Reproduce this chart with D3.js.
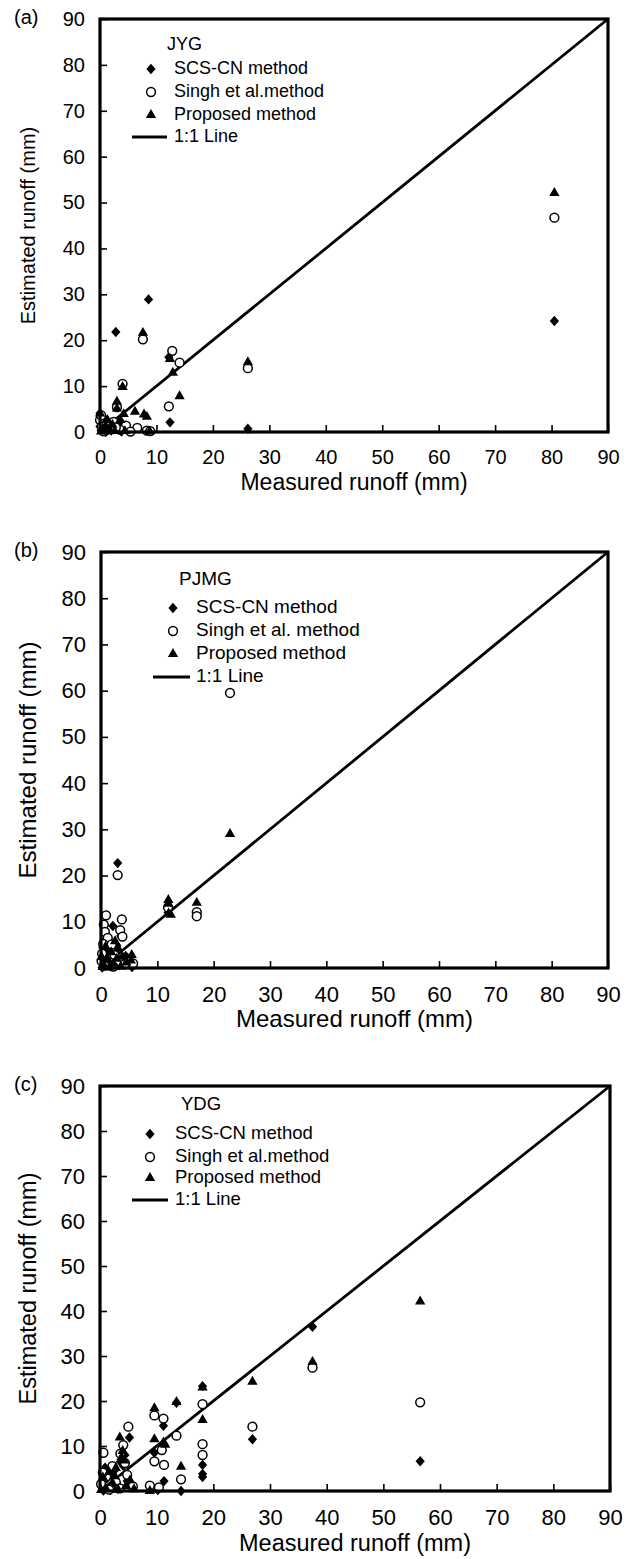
<!DOCTYPE html>
<html>
<head>
<meta charset="utf-8">
<script src="https://cdn.jsdelivr.net/npm/d3@7"></script>
<style>
  body { margin: 0; background: #fff; }
  svg { display: block; font-family: "Liberation Sans", Arial, sans-serif; }
</style>
</head>
<body>
<svg width="632" height="1559"></svg>
<script>
const ticks = [0, 10, 20, 30, 40, 50, 60, 70, 80, 90];
const seriesNames = ['SCS-CN method', 'Singh et al.method', 'Proposed method'];

// (a) JYG  -- [measured, estimated]
const jygScs = [[0, 4.1], [2.8, 21.8], [8.6, 28.9], [12.2, 16.3], [12.4, 2.1], [26.2, 0.7], [80.5, 24.2],
  [0.2, 0.3], [0.5, 0.1], [0.8, 0.5], [1.2, 0.2], [1.5, 0.8], [2, 0.3], [2.5, 1.2], [3.3, 1.8],
  [0, 1.2], [0.3, 1.7], [4.6, 0.6], [1, 0], [3.8, 0.1], [0.6, 2.2]];
const jygSingh = [[7.6, 20.2], [12.8, 17.7], [14.1, 15.1], [12.2, 5.6], [26.2, 13.9], [80.5, 46.7], [4.0, 10.5],
  [3.0, 5.4], [6.6, 0.9], [8.3, 0.3], [8.9, 0.2], [4.6, 1.4], [3.5, 0.5], [0, 2.6], [0.3, 1.2], [0.6, 0.2],
  [1.2, 1.8], [1.8, 0.6], [2.4, 2.2], [5.4, 0.1], [2.8, 1.0], [0.2, 3.6]];
const jygProp = [[7.6, 21.6], [12.4, 15.9], [12.9, 12.9], [14.1, 7.8], [26.2, 15.2], [80.5, 52.1], [4.0, 9.8],
  [3.0, 6.6], [3.0, 5.1], [6.2, 4.4], [7.8, 3.8], [8.3, 3.3], [4.2, 3.9], [3.6, 2.6], [0, 4.0], [0.4, 0.6],
  [1.0, 1.3], [1.6, 0.4], [2.2, 1.6], [0.2, 0.1], [4.4, 0.2], [2.6, 0.2], [1.3, 2.6], [8.8, 0.1]];

// (b) PJMG
const pjmgScs = [[2.96, 22.7], [2.1, 9.1], [3.5, 6.9], [11.9, 12.0], [0.3, 4.5], [1.1, 3.2], [2.4, 1.8],
  [0.6, 1.1], [4.4, 2.6], [1.6, 0.4], [3.2, 0.6], [0.2, 0.1], [5.5, 0.2], [2.8, 4.9], [0.9, 6.1], [4.0, 1.2]];
const pjmgSingh = [[2.96, 20.1], [22.9, 59.5], [11.9, 13.1], [17, 12.1], [17, 11.2], [0.9, 11.4], [3.7, 10.5],
  [0.5, 9.4], [0.7, 7.8], [3.4, 8.2], [1.2, 6.5], [0.4, 5.2], [2.6, 4.3], [0.2, 3.1], [1.5, 2.2], [3.1, 1.4],
  [4.2, 0.8], [5.7, 1], [0.6, 0.5], [2.2, 0.3], [0.1, 1.5], [1.9, 5.1], [3.8, 6.8], [2.4, 2.8]];
const pjmgProp = [[22.9, 29.0], [11.95, 14.7], [11.95, 13.9], [12.0, 11.8], [12.4, 11.5], [17, 14.1], [5.45, 2.8],
  [5.3, 1.6], [3.8, 2.5], [3.0, 4.3], [2.5, 5.8], [1.8, 3.4], [1.2, 1.9], [0.4, 0.8], [0.1, 2.4], [0.8, 4.6],
  [2.2, 0.9], [4.5, 1.2], [3.5, 0.3], [1.5, 0.1], [0.3, 0.2], [2.8, 2.0]];

// (c) YDG
const ydgScs = [[37.5, 36.5], [26.9, 11.5], [56.5, 6.6], [18.1, 23.3], [18.1, 5.8], [18.1, 3.8], [18.1, 3.1],
  [13.5, 19.6], [11.2, 14.5], [10.9, 10], [9.6, 8.5], [11.3, 2.2], [14.3, 0], [10.2, 0.2], [5.2, 11.9],
  [4.4, 8], [3.6, 6.5], [2.5, 4.5], [1.2, 2.8], [0.3, 1.5], [4.8, 2.2], [3.1, 0.5], [1.8, 0.2], [0.6, 0.1],
  [5.6, 0.8], [2.2, 3.4], [0.9, 5.2], [4.1, 5.6]];
const ydgSingh = [[37.5, 27.4], [26.9, 14.3], [56.5, 19.7], [18.1, 19.3], [18.1, 10.4], [18.1, 8.0], [13.5, 12.3],
  [14.3, 2.6], [9.6, 16.8], [11.2, 16.1], [11.3, 5.8], [9.6, 6.6], [10.9, 9.1], [8.8, 1.2], [10.4, 0.8],
  [5.0, 14.3], [4.1, 10.2], [0.6, 8.5], [3.6, 8.3], [2.2, 5.5], [1.1, 3.2], [4.8, 3.6], [0.2, 1.5], [2.8, 1.9],
  [5.8, 1.0], [1.6, 0.3], [3.5, 0.6], [0.5, 4.1], [4.4, 6.2]];
const ydgProp = [[37.5, 28.7], [26.9, 24.3], [56.5, 42.1], [18.1, 23.0], [18.1, 15.8], [13.5, 19.8], [14.3, 5.4],
  [9.6, 18.4], [9.6, 11.5], [11.2, 10.8], [11.5, 10.3], [8.8, 0], [3.5, 11.9], [4.0, 8.9], [3.8, 7.5],
  [4.3, 6.8], [2.8, 5.1], [1.6, 4.2], [0.5, 3.0], [5.3, 2.4], [4.6, 1.1], [2.2, 1.8], [1.0, 0.6], [0.2, 0.2],
  [3.2, 0.3], [6.0, 0.4], [2.6, 3.3]];

const panels = [
  { tag: '(a)', site: 'JYG', data: [jygScs, jygSingh, jygProp], names: seriesNames,
    left: 100, right: 608, top: 19, bottom: 432, tickFs: 20, titleFs: 20, xTitleFs: 23, legFs: 18, xTitleGap: 52,
    siteX: 167, siteY: 45, mkX: 151, txtX: 174, legY: [69, 92, 115, 137], lineX: [132, 167] },
  { tag: '(b)', site: 'PJMG', data: [pjmgScs, pjmgSingh, pjmgProp],
    names: ['SCS-CN method', 'Singh et al. method', 'Proposed method'],
    left: 101, right: 608, top: 552, bottom: 968, tickFs: 22, titleFs: 24, xTitleFs: 24, legFs: 19, xTitleGap: 53,
    siteX: 179, siteY: 580, mkX: 173, txtX: 196, legY: [608, 631, 654, 677], lineX: [153, 190] },
  { tag: '(c)', site: 'YDG', data: [ydgScs, ydgSingh, ydgProp], names: seriesNames,
    left: 100, right: 610, top: 1086, bottom: 1491, tickFs: 22, titleFs: 23.5, xTitleFs: 23.5, legFs: 18.5, xTitleGap: 54,
    siteX: 181, siteY: 1105, mkX: 150, txtX: 175, legY: [1134, 1157, 1178, 1200], lineX: [132, 168] }
];

const svg = d3.select('svg');
const diamondPath = 'M0,-5.2L4.6,0L0,5.2L-4.6,0Z';
const triangle = d3.symbol().type(d3.symbolTriangle).size(46);

function marker(g, kind, x, y) {
  if (kind === 0) {
    g.append('path').attr('d', diamondPath).attr('transform', `translate(${x},${y})`).attr('fill', '#000');
  } else if (kind === 1) {
    g.append('circle').attr('cx', x).attr('cy', y).attr('r', 4.4)
      .attr('fill', '#fff').attr('stroke', '#000').attr('stroke-width', 1.5);
  } else {
    g.append('path').attr('d', triangle).attr('transform', `translate(${x},${y})`).attr('fill', '#000');
  }
}

panels.forEach(p => {
  const g = svg.append('g');
  const x = d3.scaleLinear().domain([0, 90]).range([p.left, p.right]);
  const y = d3.scaleLinear().domain([0, 90]).range([p.bottom, p.top]);

  // axes with inward ticks
  const xAxis = g.append('g').attr('transform', `translate(0,${p.bottom})`)
    .call(d3.axisBottom(x).tickValues(ticks).tickSize(-7).tickPadding(18));
  const yAxis = g.append('g').attr('transform', `translate(${p.left},0)`)
    .call(d3.axisLeft(y).tickValues(ticks).tickSize(-7).tickPadding(15));
  [xAxis, yAxis].forEach(a => {
    a.select('.domain').remove();
    a.selectAll('line').attr('stroke', '#000').attr('stroke-width', 1.6);
    a.selectAll('text').attr('font-size', p.tickFs).attr('fill', '#000')
      .attr('font-family', '"Liberation Sans", Arial, sans-serif');
  });

  // 1:1 line
  g.append('line').attr('x1', x(0)).attr('y1', y(0)).attr('x2', x(90)).attr('y2', y(90))
    .attr('stroke', '#000').attr('stroke-width', 2.8);

  // points: SCS, Singh, Proposed
  p.data.forEach((series, k) => {
    series.forEach(d => marker(g, k, x(d[0]), y(d[1])));
  });

  // frame
  g.append('rect').attr('x', p.left).attr('y', p.top)
    .attr('width', p.right - p.left).attr('height', p.bottom - p.top)
    .attr('fill', 'none').attr('stroke', '#000').attr('stroke-width', 3.2);

  // titles
  g.append('text').attr('x', (p.left + p.right) / 2).attr('y', p.bottom + p.xTitleGap)
    .attr('text-anchor', 'middle').attr('dominant-baseline', 'middle')
    .attr('font-size', p.xTitleFs).text('Measured runoff (mm)');
  g.append('text').attr('transform', `translate(30,${(p.top + p.bottom) / 2}) rotate(-90)`)
    .attr('text-anchor', 'middle').attr('dominant-baseline', 'middle')
    .attr('font-size', p.titleFs).text('Estimated runoff (mm)');
  g.append('text').attr('x', 14).attr('y', p.top).attr('dominant-baseline', 'middle')
    .attr('font-size', 20).text(p.tag);

  // legend
  g.append('text').attr('x', p.siteX).attr('y', p.siteY).attr('dominant-baseline', 'middle')
    .attr('font-size', p.legFs).text(p.site);
  p.names.forEach((n, k) => {
    marker(g, k, p.mkX, p.legY[k]);
    g.append('text').attr('x', p.txtX).attr('y', p.legY[k]).attr('dominant-baseline', 'middle')
      .attr('font-size', p.legFs).text(n);
  });
  g.append('line').attr('x1', p.lineX[0]).attr('x2', p.lineX[1])
    .attr('y1', p.legY[3]).attr('y2', p.legY[3]).attr('stroke', '#000').attr('stroke-width', 2.8);
  g.append('text').attr('x', p.txtX).attr('y', p.legY[3]).attr('dominant-baseline', 'middle')
    .attr('font-size', p.legFs).text('1:1 Line');
});
</script>
</body>
</html>
